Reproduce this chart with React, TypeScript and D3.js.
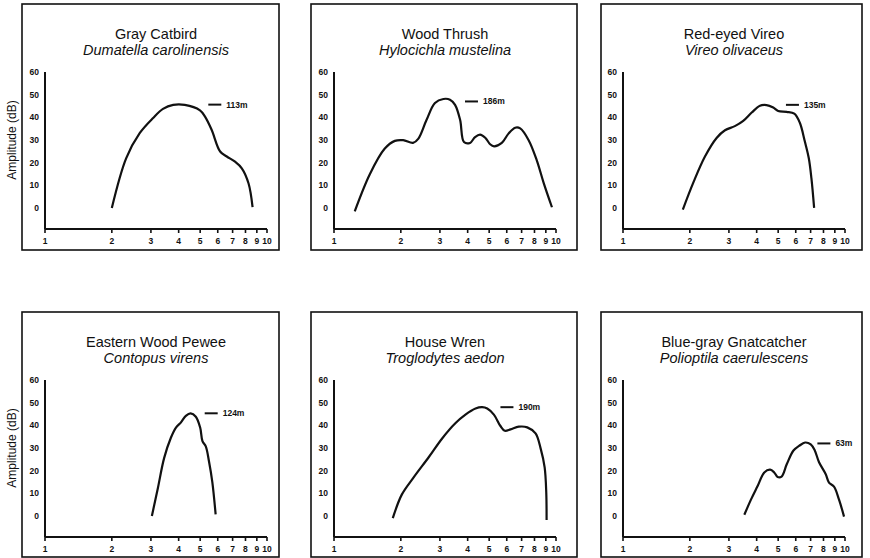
import React from "react";
import * as d3 from "d3";

// frequency (kHz, log axis) vs amplitude (dB)
const catbird: [number, number][] = [
  [2.0, 0], [2.32, 21.9], [2.67, 33], [3.07, 39.7], [3.4, 43.7], [3.78, 45.5],
  [4.26, 45.5], [4.99, 43.1], [5.25, 40.4], [5.63, 34.5], [6.15, 24.9],
  [6.59, 22.7], [7.18, 20.4], [7.7, 17.5], [8.26, 10.8], [8.61, 0.4],
];
const thrush: [number, number][] = [
  [1.24, -1.5], [1.45, 14.9], [1.69, 26.1], [1.88, 29.6], [2.05, 29.9],
  [2.27, 28.7], [2.4, 30.6], [2.61, 38.8], [2.85, 46.3], [3.11, 48.1],
  [3.33, 47.8], [3.51, 45.5], [3.7, 38.8], [3.85, 29.1], [4.1, 28.7],
  [4.32, 31.3], [4.55, 32.4], [4.8, 31.0], [5.05, 28.1], [5.26, 27.2],
  [5.7, 28.7], [6.11, 32.8], [6.55, 35.4], [6.9, 35.1], [7.53, 29.9],
  [8.2, 20.9], [8.79, 11.2], [9.59, 0.3],
];
const vireo: [number, number][] = [
  [1.86, -0.7], [2.08, 11.5], [2.34, 22.7], [2.64, 30.9], [2.88, 34.3],
  [3.19, 36.1], [3.48, 38.4], [3.8, 42.1], [4.14, 45.1], [4.43, 45.4],
  [4.75, 44.3], [5.0, 42.8], [5.46, 42.4], [5.91, 41.6], [6.26, 37.6],
  [6.59, 29.4], [6.87, 21.9], [7.06, 13.0], [7.26, 0],
];
const pewee: [number, number][] = [
  [3.03, 0], [3.22, 12], [3.44, 25.5], [3.69, 34.5], [3.89, 39], [4.09, 41.2],
  [4.31, 44.2], [4.53, 45.3], [4.78, 43.8], [5.0, 39], [5.12, 33], [5.3, 30.7],
  [5.48, 24], [5.67, 15], [5.87, 0.7],
];
const wren: [number, number][] = [
  [1.84, -1], [2.02, 9.4], [2.28, 16.9], [2.67, 25.9], [3.07, 34.2],
  [3.52, 40.9], [3.91, 44.7], [4.34, 47.4], [4.65, 48], [4.9, 47.4],
  [5.25, 44.7], [5.62, 39.7], [5.88, 37.6], [6.24, 38.2], [6.8, 39.4],
  [7.42, 39.1], [8.09, 36.4], [8.53, 29.7], [8.89, 21.4], [9.04, 10.2],
  [9.07, -1.8],
];
const gnatcatcher: [number, number][] = [
  [3.52, 0.5], [3.77, 7.2], [4.04, 13.2], [4.33, 19.2], [4.6, 20.4],
  [4.8, 19.2], [4.97, 17.2], [5.18, 17.4], [5.47, 22.9], [5.86, 28.9],
  [6.21, 30.9], [6.61, 32.4], [7.01, 31.6], [7.31, 28.9], [7.64, 23.7],
  [8.19, 18.4], [8.47, 14.7], [8.92, 12.9], [9.4, 7.2], [9.9, -0.3],
];

const commonNames = [
  "Gray Catbird", "Wood Thrush", "Red-eyed Vireo",
  "Eastern Wood Pewee", "House Wren", "Blue-gray Gnatcatcher",
];
const latinNames = [
  "Dumatella carolinensis", "Hylocichla mustelina", "Vireo olivaceus",
  "Contopus virens", "Troglodytes aedon", "Polioptila caerulescens",
];
const series = [catbird, thrush, vireo, pewee, wren, gnatcatcher];
const distances = ["113m", "186m", "135m", "124m", "190m", "63m"];
// where the distance tag sits (frequency, dB)
const tagFreq = [5.44, 3.89, 5.42, 5.24, 5.62, 7.51];
const tagDb = [45.6, 47, 45.5, 45.3, 48, 32];

const xTicks = [1, 2, 3, 4, 5, 6, 7, 8, 9, 10];
const yTicks = [0, 10, 20, 30, 40, 50, 60];

const cols = [45, 334, 623];
const rows = [72, 380];
const boxLeft = [22, 311, 601];
const boxRight = [279, 577, 862];
const boxTop = [4, 312];
const boxBottom = [250, 557];

const W = 222;
const H = 157;
const ink = "#111";

const x = d3.scaleLog().domain([1, 10]).range([0, W]);
const y = d3.scaleLinear().domain([-9.3, 60]).range([H, 0]);
const line = d3
  .line<[number, number]>()
  .x((d) => x(d[0]))
  .y((d) => y(d[1]))
  .curve(d3.curveCatmullRom.alpha(0.5));

function Panel({ i }: { i: number }) {
  const c = i % 3;
  const r = Math.floor(i / 3);
  const ox = cols[c];
  const oy = rows[r];
  const tx = x(tagFreq[i]);
  const ty = y(tagDb[i]);
  return (
    <g>
      <rect
        x={boxLeft[c]}
        y={boxTop[r]}
        width={boxRight[c] - boxLeft[c]}
        height={boxBottom[r] - boxTop[r]}
        fill="none"
        stroke={ink}
        strokeWidth={1.6}
      />
      {c === 0 && (
        <text
          transform={`translate(16,${oy + y(30)}) rotate(-90)`}
          textAnchor="middle"
          fontSize={12}
          fill={ink}
        >
          Amplitude (dB)
        </text>
      )}
      <g transform={`translate(${ox},${oy})`}>
        <text x={W / 2} y={-33} textAnchor="middle" fontSize={14.5} fill={ink}>
          {commonNames[i]}
        </text>
        <text x={W / 2} y={-17} textAnchor="middle" fontSize={14.5} fontStyle="italic" fill={ink}>
          {latinNames[i]}
        </text>
        <line x1={0} x2={0} y1={0} y2={H} stroke={ink} strokeWidth={2} />
        <line x1={0} x2={W} y1={H} y2={H} stroke={ink} strokeWidth={2} />
        {xTicks.map((t) => (
          <g key={t}>
            <line x1={x(t)} x2={x(t)} y1={H} y2={H + 4} stroke={ink} strokeWidth={1.6} />
            <text x={x(t)} y={H + 15} textAnchor="middle" fontSize={8.5} fontWeight="bold" fill={ink}>
              {t}
            </text>
          </g>
        ))}
        {yTicks.map((t) => (
          <text key={t} x={-6} y={y(t) + 3} textAnchor="end" fontSize={8.5} fontWeight="bold" fill={ink}>
            {t}
          </text>
        ))}
        <path d={line(series[i]) ?? ""} fill="none" stroke={ink} strokeWidth={2.2} strokeLinejoin="round" />
        <line x1={tx} x2={tx + 13} y1={ty} y2={ty} stroke={ink} strokeWidth={2} />
        <text x={tx + 18} y={ty + 3} fontSize={8.5} fontWeight="bold" fill={ink}>
          {distances[i]}
        </text>
      </g>
    </g>
  );
}

export default function App() {
  return (
    <svg
      width={870}
      height={558}
      style={{ position: "absolute", left: 0, top: 0, background: "#fff" }}
      fontFamily="'Liberation Sans', Arial, sans-serif"
    >
      {series.map((_, i) => (
        <Panel key={i} i={i} />
      ))}
    </svg>
  );
}
